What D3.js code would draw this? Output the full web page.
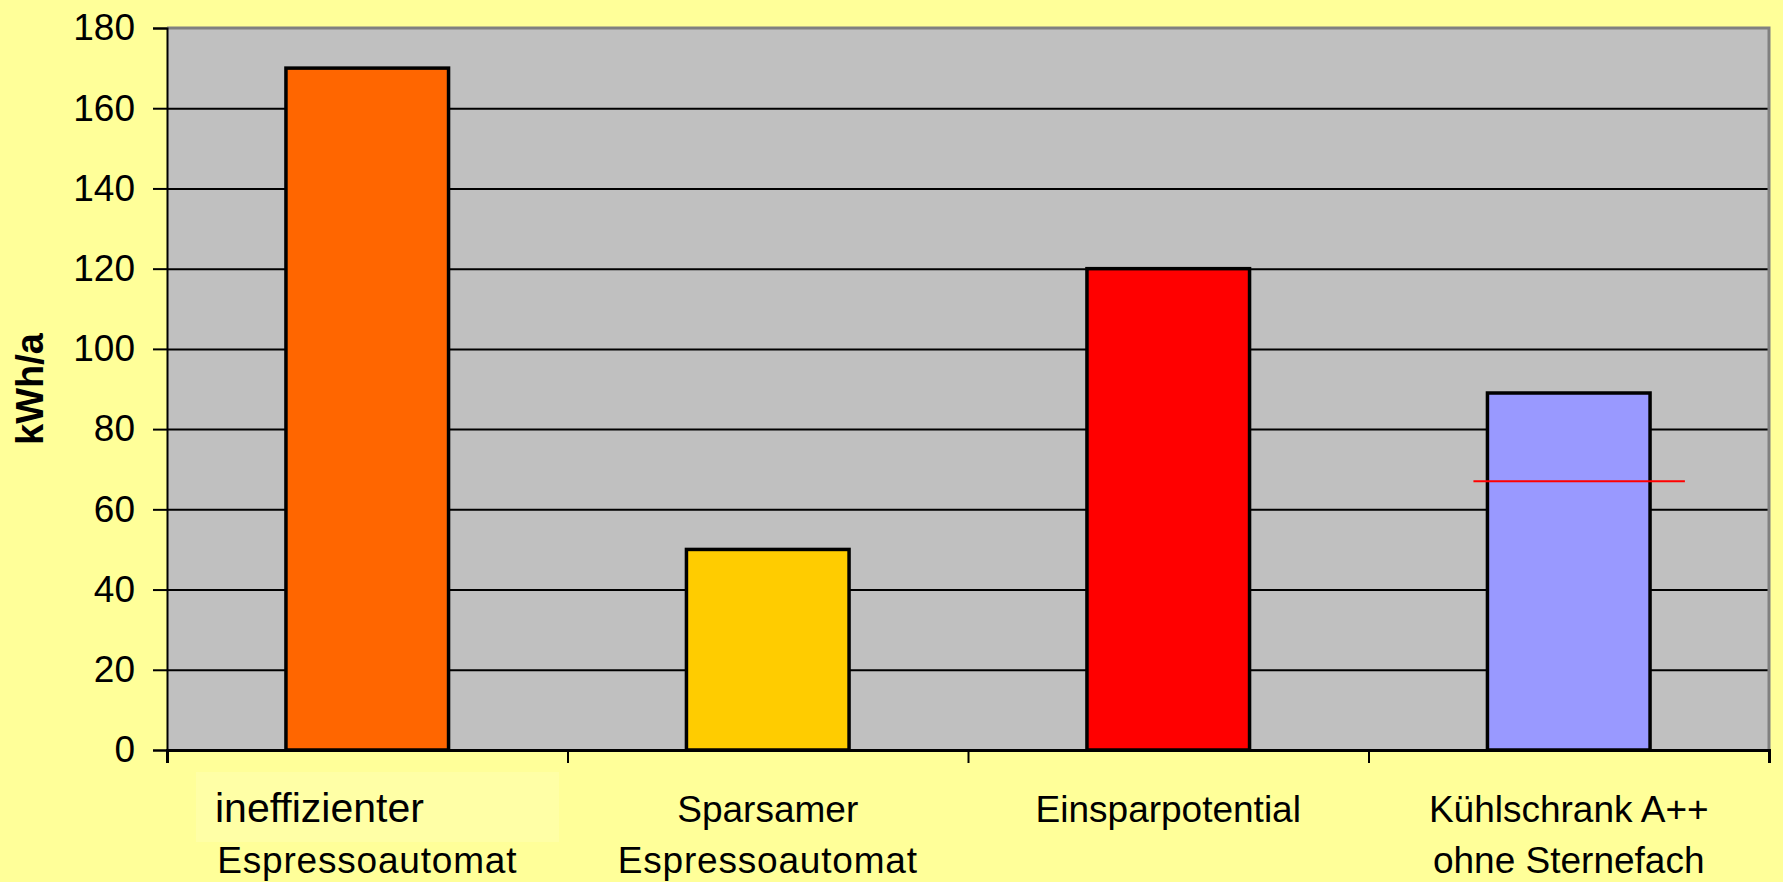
<!DOCTYPE html>
<html>
<head>
<meta charset="utf-8">
<script src="https://cdn.jsdelivr.net/npm/d3@7"></script>
<style>
  html, body { margin: 0; padding: 0; background: #ffff99; }
  svg { display: block; }
  text { font-family: "Liberation Sans", Arial, sans-serif; }
</style>
</head>
<body>
<svg id="chart"></svg>
<script>
// data
const categories = ["ineffizienter Espressoautomat", "Sparsamer Espressoautomat", "Einsparpotential", "Kühlschrank A++ ohne Sternefach"];
const labelLines = [["ineffizienter", "Espressoautomat"], ["Sparsamer", "Espressoautomat"], ["Einsparpotential"], ["Kühlschrank A++", "ohne Sternefach"]];
const values = [170, 50, 120, 89];
const barColors = ["#ff6600", "#ffcc00", "#ff0000", "#9999ff"];
const yTicks = [0, 20, 40, 60, 80, 100, 120, 140, 160, 180];
const yLabel = "kWh/a";
// red marker line on the fridge bar
const markerValue = 67;
const markerCategory = "Kühlschrank A++ ohne Sternefach";

const width = 1783;
const height = 882;
const margin = { top: 28, right: 14, bottom: 132, left: 167 };
const plotW = width - margin.left - margin.right;
const plotH = height - margin.top - margin.bottom;

const svg = d3.select("#chart").attr("width", width).attr("height", height);

svg.append("rect").attr("width", width).attr("height", height).attr("fill", "#ffff99");

const x = d3.scaleBand().domain(categories).range([0, plotW]).padding(0);
const xTick = d3.scaleLinear().domain([0, categories.length]).range([0, plotW]);
const y = d3.scaleLinear().domain([0, 180]).range([plotH, 0]);

const barRatio = 0.406;
const barW = x.bandwidth() * barRatio;

const g = svg.append("g").attr("transform", `translate(${margin.left},${margin.top})`);

// plot background
g.append("rect")
  .attr("width", plotW)
  .attr("height", plotH)
  .attr("fill", "#c0c0c0");

// gridlines
g.append("g")
  .call(d3.axisLeft(y).tickValues(yTicks.filter((t) => t > 0 && t < 180)).tickSize(-plotW).tickFormat(""))
  .call((s) => s.select(".domain").remove())
  .call((s) => s.selectAll("line").attr("stroke", "#000").attr("stroke-width", 2));

// plot border (top / right grey)
g.append("path")
  .attr("d", `M0,${y(180)}H${plotW}V${plotH}`)
  .attr("fill", "none")
  .attr("stroke", "#808080")
  .attr("stroke-width", 3);

// bars
g.selectAll(".bar")
  .data(categories)
  .join("rect")
  .attr("class", "bar")
  .attr("x", (d) => x(d) + (x.bandwidth() - barW) / 2)
  .attr("y", (d, i) => y(values[i]))
  .attr("width", barW)
  .attr("height", (d, i) => y(0) - y(values[i]))
  .attr("fill", (d, i) => barColors[i])
  .attr("stroke", "#000")
  .attr("stroke-width", 3.5);

// red marker line
const mx = x(markerCategory) + (x.bandwidth() - barW) / 2;
g.append("line")
  .attr("x1", mx - x.bandwidth() * 0.035)
  .attr("x2", mx + barW + x.bandwidth() * 0.087)
  .attr("y1", y(markerValue))
  .attr("y2", y(markerValue))
  .attr("stroke", "#ff0000")
  .attr("stroke-width", 2);

// y axis
const yAxis = g.append("g")
  .call(d3.axisLeft(y).tickValues(yTicks).tickSize(14).tickPadding(18));
yAxis.select(".domain").attr("stroke", "#000").attr("stroke-width", 2);
yAxis.selectAll("line").attr("stroke", "#000").attr("stroke-width", 2);
yAxis.selectAll("text")
  .attr("font-size", 37)
  .attr("fill", "#000")
  .style("font-family", "'Liberation Sans', Arial, sans-serif");

// x axis (category boundaries)
const xAxis = g.append("g")
  .attr("transform", `translate(0,${plotH})`)
  .call(d3.axisBottom(xTick).tickValues(d3.range(categories.length + 1)).tickSize(13).tickFormat(""));
xAxis.select(".domain").attr("stroke", "#000").attr("stroke-width", 3);
xAxis.selectAll("line").attr("stroke", "#000").attr("stroke-width", 2);

// highlight box behind first label
g.append("rect")
  .attr("x", x(categories[0]) + 29)
  .attr("y", plotH + 22)
  .attr("width", 363)
  .attr("height", 70)
  .attr("fill", "#ffffa6");

// category labels
const labels = g.append("g").attr("transform", `translate(0,${plotH})`);
labelLines.forEach((lines, i) => {
  const cx = x(categories[i]) + x.bandwidth() / 2;
  lines.forEach((line, j) => {
    const first = i === 0 && j === 0;
    labels.append("text")
      .attr("x", first ? x(categories[i]) + 48 : cx)
      .attr("y", 72 + j * 51)
      .attr("text-anchor", first ? "start" : "middle")
      .attr("font-size", first ? 41 : 37)
      .attr("letter-spacing", line === "Espressoautomat" ? 0.8 : 0)
      .attr("fill", "#000")
      .text(line);
  });
});

// y axis title
svg.append("text")
  .attr("transform", `translate(43,${margin.top + plotH / 2}) rotate(-90)`)
  .attr("text-anchor", "middle")
  .attr("font-size", 38)
  .attr("font-weight", "bold")
  .attr("fill", "#000")
  .text(yLabel);
</script>
</body>
</html>
